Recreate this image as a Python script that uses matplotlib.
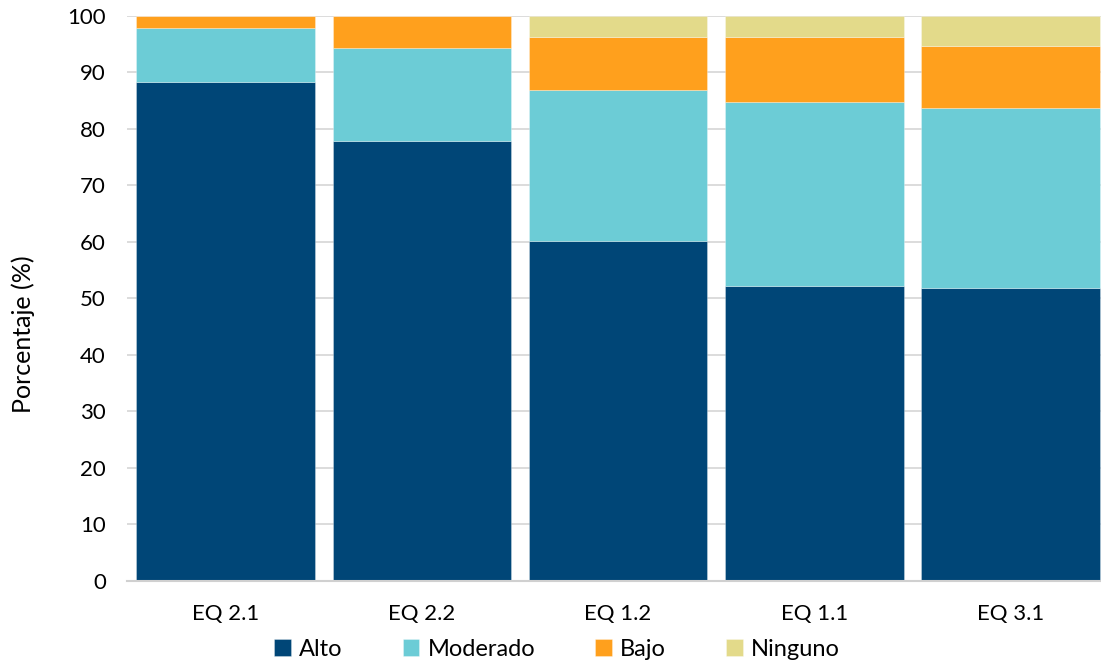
import matplotlib
matplotlib.use("Agg")
import matplotlib.pyplot as plt
import numpy as np

categories = ["EQ 2.1", "EQ 2.2", "EQ 1.2", "EQ 1.1", "EQ 3.1"]
alto = [88.3, 77.8, 60.2, 52.2, 51.8]
moderado = [9.6, 16.4, 26.6, 32.5, 31.8]
bajo = [2.1, 5.8, 9.5, 11.6, 11.1]
ninguno = [0.0, 0.0, 3.7, 3.7, 5.3]
series_names = ["Alto", "Moderado", "Bajo", "Ninguno"]
colors = ["#004677", "#6CCCD6", "#FFA01D", "#E3DA8A"]
yticks = [0, 10, 20, 30, 40, 50, 60, 70, 80, 90, 100]

plt.rcParams['font.family'] = ['Lato', 'DejaVu Sans']

W, H = 1101, 662
fig = plt.figure(figsize=(W / 100, H / 100), dpi=100)
left, right, top, bottom = 127.3, 1101, 15.7, 580.7
ax = fig.add_axes([left / W, 1 - bottom / H, (right - left) / W, (bottom - top) / H])

x = np.arange(len(categories))
width = 0.909
pitch = 196.3
units = (right - left) / pitch
ax.set_xlim(-0.5, -0.5 + units)
ax.set_ylim(0, 100)

bottoms = np.zeros(len(categories))
handles = []
for name, vals, c in zip(series_names, [alto, moderado, bajo, ninguno], colors):
    vals = np.array(vals)
    b = ax.bar(x, vals, width, bottom=bottoms, color=c, label=name,
               edgecolor=(1, 1, 1, 0.35), linewidth=0.6, zorder=3)
    handles.append(b)
    bottoms += vals

ax.set_yticks(yticks)
ax.yaxis.grid(True, color="#D9D9D9", linewidth=1.3, zorder=0)
ax.set_axisbelow(True)
for s in ["top", "right", "left"]:
    ax.spines[s].set_visible(False)
ax.spines["bottom"].set_color("#D0D0D0")
ax.spines["bottom"].set_linewidth(1.5)
ax.spines["bottom"].set_zorder(4)
ax.tick_params(axis="both", length=0, labelsize=16, colors="#000000")
ax.tick_params(axis="y", pad=15.5)
ax.tick_params(axis="x", pad=17)
ax.set_xticks(x)
ax.set_xticklabels(categories)
ax.set_ylabel("Porcentaje (%)", fontsize=18)
ax.yaxis.set_label_coords(-(left - 23) / (right - left), 0.437)
ax.yaxis.label.set_va("center")

fig.legend(handles=handles, labels=series_names, loc="center",
           bbox_to_anchor=(0.506, 1 - 649 / H), ncol=4, frameon=False,
           fontsize=17, handlelength=0.7, handleheight=0.7,
           handletextpad=0.35, columnspacing=2.55, borderaxespad=0)

fig.savefig("out.png", dpi=100)
